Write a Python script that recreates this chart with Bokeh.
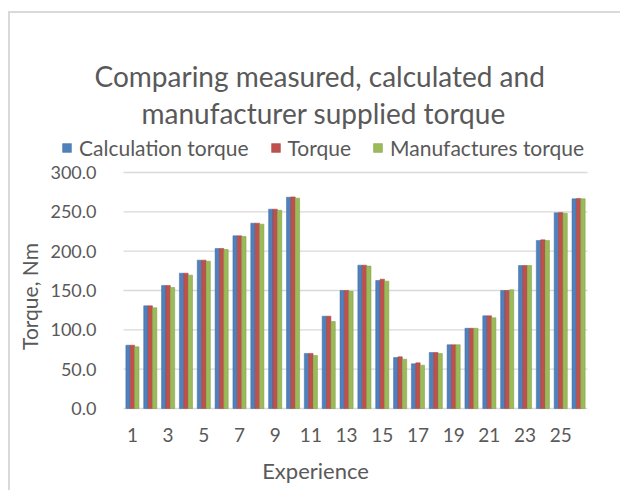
from bokeh.plotting import figure
from bokeh.models import (Range1d, FixedTicker, PrintfTickFormatter, Legend,
                          LegendItem, Title)
from bokeh.transform import dodge
from bokeh.embed import file_html
from bokeh.resources import INLINE

# Torque per experiment (Nm)
experiments = list(range(1, 27))
calculation_torque = [80.5, 130.5, 156.4, 172.0, 188.6, 203.4, 219.5, 235.6, 253.4, 268.6,
                      70.0, 117.4, 150.0, 182.2, 162.7, 64.8, 56.8, 71.2, 81.0, 102.0,
                      117.8, 150.0, 181.8, 213.6, 248.7, 266.5]
measured_torque = [80.5, 130.5, 156.4, 172.0, 188.6, 203.4, 219.5, 235.6, 253.4, 269.0,
                   70.0, 117.4, 150.0, 182.2, 164.4, 65.7, 58.0, 71.2, 81.0, 102.0,
                   117.8, 150.0, 181.8, 214.4, 249.0, 267.0]
manufacturer_torque = [78.4, 128.0, 153.8, 169.5, 187.3, 202.0, 218.6, 234.3, 252.0, 267.4,
                       67.4, 110.6, 149.0, 181.0, 161.9, 62.7, 55.0, 70.0, 81.0, 102.0,
                       115.3, 150.8, 181.8, 213.6, 248.3, 266.5]
x_ticks = list(range(1, 27, 2))
y_ticks = [0, 50, 100, 150, 200, 250, 300]

FONT = "Lato"
GREY = "#595959"
GRID = "#d9d9d9"

# Canvas geometry (px). The frame spans almost the whole chart so that the
# legend and the value labels can sit inside it; the bar area is a part of it.
W, H = 620, 490
FRAME_L, FRAME_R, FRAME_T, FRAME_B = 10, 620, 130, 420
AREA_L, AREA_R, AREA_T, AREA_B = 123, 587, 172, 408

x_lo, x_hi = 0.5, len(experiments) + 0.5
y_lo, y_hi = 0, max(y_ticks)
px_x = (AREA_R - AREA_L) / (x_hi - x_lo)
px_y = (AREA_B - AREA_T) / (y_hi - y_lo)
x_range = Range1d(x_lo - (AREA_L - FRAME_L) / px_x, x_hi + (FRAME_R - AREA_R) / px_x)
y_range = Range1d(y_lo - (FRAME_B - AREA_B) / px_y, y_hi + (AREA_T - FRAME_T) / px_y)

p = figure(width=W, height=H, output_backend="svg", toolbar_location=None,
           x_range=x_range, y_range=y_range,
           min_border_left=FRAME_L, min_border_right=W - FRAME_R,
           min_border_top=FRAME_T, min_border_bottom=H - FRAME_B, title=None)
p.outline_line_color = None
p.background_fill_color = None
p.border_fill_color = None
# thin grey chart-area border along the top and left edges
p.styles = {"box-shadow": "inset 8px 11px 0 0 #ffffff, inset 10px 13px 0 0 #d9d9d9",
            "background-color": "#ffffff"}

# horizontal gridlines across the bar area only
p.segment(x0=x_lo, x1=x_hi, y0=y_ticks, y1=y_ticks, line_color=GRID, line_width=1.3)

data = dict(x=experiments, calc=calculation_torque, meas=measured_torque,
            manu=manufacturer_torque)
bw = 0.245
r_calc = p.vbar(x=dodge("x", -bw, range=p.x_range), top="calc", width=bw,
                source=data, fill_color="#4F81BD", line_color="#3f6a9e", line_width=0.5)
r_meas = p.vbar(x=dodge("x", 0, range=p.x_range), top="meas", width=bw,
                source=data, fill_color="#C0504D", line_color="#9e3f3c", line_width=0.5)
r_manu = p.vbar(x=dodge("x", bw, range=p.x_range), top="manu", width=bw,
                source=data, fill_color="#9BBB59", line_color="#7d9a44", line_width=0.5)

# axes
p.xaxis.ticker = FixedTicker(ticks=x_ticks)
p.yaxis.ticker = FixedTicker(ticks=y_ticks)
p.yaxis.formatter = PrintfTickFormatter(format="%.1f")
p.yaxis.fixed_location = x_lo
p.yaxis.bounds = (y_lo - 28, y_hi)   # centres the axis title a little below mid-height
p.xaxis.bounds = (x_lo, x_hi)
for ax in (p.xaxis[0], p.yaxis[0]):
    ax.axis_line_color = None
    ax.major_tick_line_color = None
    ax.minor_tick_line_color = None
    ax.major_label_text_font = FONT
    ax.major_label_text_color = GREY
    ax.axis_label_text_font = FONT
    ax.axis_label_text_font_style = "normal"
    ax.axis_label_text_color = GREY
p.yaxis.major_label_text_font_size = "18px"
p.xaxis.major_label_text_font_size = "19px"
p.yaxis.axis_label_text_font_size = "21px"
p.xaxis.axis_label_text_font_size = "22px"
p.yaxis.major_label_standoff = 21
p.xaxis.major_label_standoff = 1
p.yaxis.axis_label = "Torque, Nm"
p.xaxis.axis_label = "Experience"
p.yaxis.axis_label_standoff = 5
p.xaxis.axis_label_standoff = 12
p.xgrid.visible = False
p.ygrid.visible = False

legend = Legend(items=[LegendItem(label="Calculation torque", renderers=[r_calc]),
                       LegendItem(label="Torque", renderers=[r_meas]),
                       LegendItem(label="Manufactures torque", renderers=[r_manu])],
                orientation="horizontal", location=(61 - FRAME_L, 248 + FRAME_B - AREA_B),
                glyph_width=11, glyph_height=11, label_standoff=7, spacing=21,
                padding=0, margin=0, border_line_color=None, background_fill_alpha=0,
                label_text_font=FONT, label_text_font_size="21px",
                label_text_color=GREY, label_height=20)
p.add_layout(legend, "center")

line2 = Title(text="manufacturer supplied torque", align="left", offset=131,
              text_font=FONT, text_font_size="28px", text_color=GREY,
              text_font_style="normal", standoff=2, text_line_height=1.0)
line1 = Title(text="Comparing measured, calculated and", align="left", offset=84,
              text_font=FONT, text_font_size="28px", text_color=GREY,
              text_font_style="normal", standoff=0, text_line_height=1.0)
p.add_layout(line2, "above")
p.add_layout(line1, "above")

open("out.html", "w").write(file_html(p, INLINE))
